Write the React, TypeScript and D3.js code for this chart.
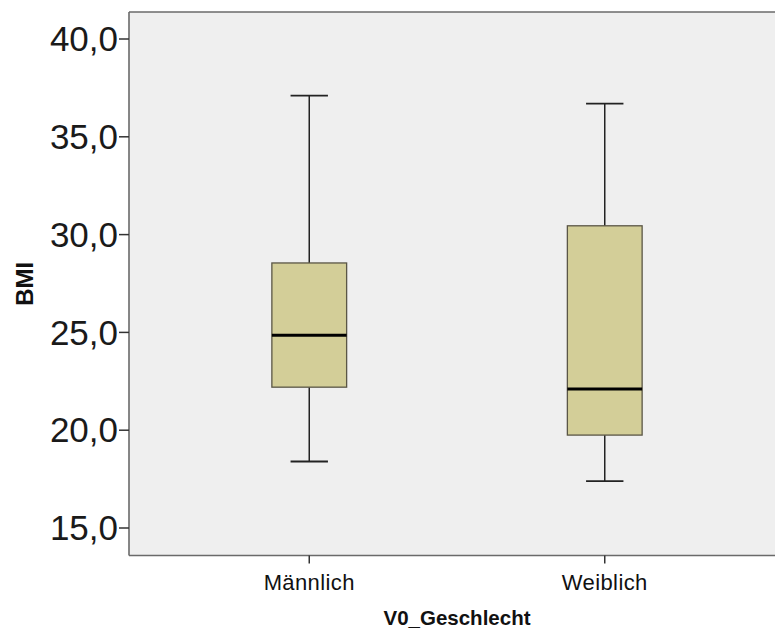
import React from "react";
import * as d3 from "d3";

// BMI by sex: five-number summaries per group
const categories = ["Männlich", "Weiblich"];
const whiskerLow = [18.4, 17.4];
const quartile1 = [22.2, 19.75];
const medians = [24.85, 22.1];
const quartile3 = [28.55, 30.45];
const whiskerHigh = [37.1, 36.7];
const yTicks = [15, 20, 25, 30, 35, 40];

const W = 775;
const H = 630;
const plot = { left: 129, top: 12, right: 785, bottom: 555.5 };
const FONT = "'Liberation Sans', Arial, sans-serif";

export default function App() {
  const y = d3.scaleLinear().domain([15, 40]).range([528, 39]);
  const x = d3.scalePoint<string>().domain(categories).range([plot.left, plot.right]).padding(0.61);
  const step = x.step();
  const boxW = step * 0.253;
  const capW = boxW / 2;
  const fmt = (v: number) => d3.format(".1f")(v).replace(".", ",");
  const frame = "#6a6a6a";

  return (
    <svg
      width={W}
      height={H}
      style={{ position: "absolute", left: 0, top: 0, background: "#ffffff" }}
      fontFamily={FONT}
    >
      <rect
        x={plot.left}
        y={plot.top}
        width={plot.right - plot.left}
        height={plot.bottom - plot.top}
        fill="#efefef"
      />
      <line x1={plot.left} x2={W} y1={plot.top} y2={plot.top} stroke={frame} strokeWidth={1.6} />
      <line x1={plot.left} x2={W} y1={plot.bottom} y2={plot.bottom} stroke={frame} strokeWidth={1.6} />
      <line x1={plot.left} x2={plot.left} y1={plot.top} y2={plot.bottom} stroke={frame} strokeWidth={1.6} />

      {/* y axis ticks and labels */}
      {yTicks.map((t) => (
        <g key={t}>
          <line x1={plot.left - 10} x2={plot.left} y1={y(t)} y2={y(t)} stroke="#333" strokeWidth={1.5} />
          <text
            x={plot.left - 11}
            y={y(t)}
            dy="0.35em"
            textAnchor="end"
            fontSize={35}
            fill="#1a1a1a"
          >
            {fmt(t)}
          </text>
        </g>
      ))}

      {/* boxes */}
      {categories.map((c, i) => {
        const cx = x(c) as number;
        return (
          <g key={c}>
            <line x1={cx} x2={cx} y1={y(whiskerHigh[i])} y2={y(quartile3[i])} stroke="#222" strokeWidth={1.5} />
            <line x1={cx} x2={cx} y1={y(quartile1[i])} y2={y(whiskerLow[i])} stroke="#222" strokeWidth={1.5} />
            <line x1={cx - capW / 2} x2={cx + capW / 2} y1={y(whiskerHigh[i])} y2={y(whiskerHigh[i])} stroke="#222" strokeWidth={1.8} />
            <line x1={cx - capW / 2} x2={cx + capW / 2} y1={y(whiskerLow[i])} y2={y(whiskerLow[i])} stroke="#222" strokeWidth={1.8} />
            <rect
              x={cx - boxW / 2}
              y={y(quartile3[i])}
              width={boxW}
              height={y(quartile1[i]) - y(quartile3[i])}
              fill="#d3ce98"
              stroke="#5a5646"
              strokeWidth={1.3}
            />
            <line
              x1={cx - boxW / 2}
              x2={cx + boxW / 2}
              y1={y(medians[i])}
              y2={y(medians[i])}
              stroke="#000"
              strokeWidth={3}
            />
            <line x1={cx} x2={cx} y1={plot.bottom} y2={plot.bottom + 8} stroke="#333" strokeWidth={1.5} />
            <text
              x={cx}
              y={590}
              textAnchor="middle"
              fontSize={22}
              letterSpacing={0.4}
              fill="#111"
            >
              {c}
            </text>
          </g>
        );
      })}

      {/* axis titles */}
      <text
        x={(plot.left + plot.right) / 2}
        y={625}
        textAnchor="middle"
        fontSize={20.5}
        fontWeight="bold"
        fill="#111"
      >
        V0_Geschlecht
      </text>
      <text
        transform={`translate(33, ${(plot.top + plot.bottom) / 2}) rotate(-90)`}
        textAnchor="middle"
        fontSize={24}
        fontWeight="bold"
        fill="#111"
      >
        BMI
      </text>
    </svg>
  );
}
